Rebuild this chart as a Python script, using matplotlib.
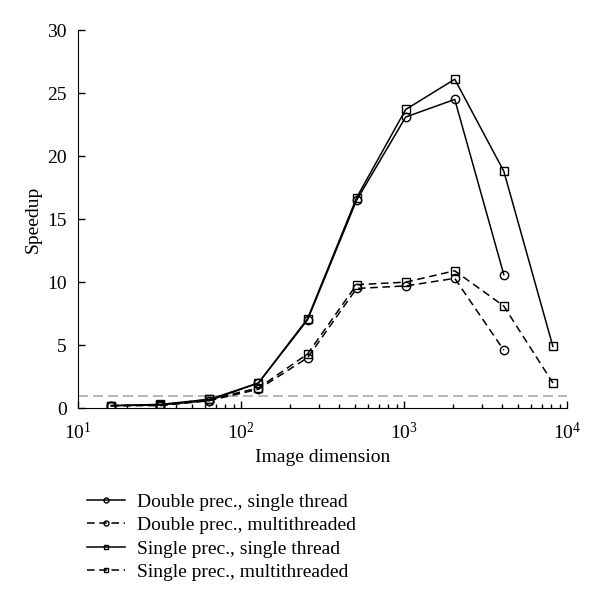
import numpy as np
import matplotlib
matplotlib.use('Agg')
import matplotlib.pyplot as plt

plt.rcParams['font.family'] = ['Liberation Serif', 'DejaVu Serif']
plt.rcParams['mathtext.fontset'] = 'stix'

# ========== data ==========
dims = [16, 32, 64, 128, 256, 512, 1024, 2048, 4096, 8192]
double_single = [0.2, 0.25, 0.6, 2.0, 7.0, 16.5, 23.1, 24.5, 10.6]
double_multi = [0.2, 0.2, 0.6, 1.5, 4.0, 9.5, 9.7, 10.3, 4.6]
single_single = [0.2, 0.3, 0.7, 2.0, 7.1, 16.7, 23.7, 26.1, 18.8, 4.9]
single_multi = [0.2, 0.25, 0.7, 1.6, 4.3, 9.8, 10.0, 10.9, 8.1, 2.0]
labels = ['Double prec., single thread', 'Double prec., multithreaded',
          'Single prec., single thread', 'Single prec., multithreaded']

fig = plt.figure(figsize=(6.0, 6.02), dpi=100)
ax = fig.add_axes([0.13, 0.322, 0.815, 0.628])

mk = dict(markersize=6, markerfacecolor='none', markeredgecolor='black', markeredgewidth=1.0)
ax.plot(dims[:9], double_single, 'k-', marker='o', lw=1.1, label=labels[0], **mk)
ax.plot(dims[:9], double_multi, 'k--', marker='o', lw=1.1, dashes=(5, 3), label=labels[1], **mk)
ax.plot(dims, single_single, 'k-', marker='s', lw=1.1, label=labels[2], **mk)
ax.plot(dims, single_multi, 'k--', marker='s', lw=1.1, dashes=(5, 3), label=labels[3], **mk)
ax.axhline(1, color='#aaaaaa', lw=1.2, ls=(0, (6, 3)), zorder=0)

ax.set_xscale('log')
ax.set_xlim(10, 10000)
ax.set_ylim(0, 30)
ax.set_yticks([0, 5, 10, 15, 20, 25, 30])
ax.spines['top'].set_visible(False)
ax.spines['right'].set_visible(False)
ax.tick_params(direction='in', labelsize=14, length=5, width=1)
ax.tick_params(which='minor', direction='in', length=3, width=1)
ax.tick_params(axis='x', pad=10)
ax.tick_params(axis='y', pad=8)
ax.set_xlabel('Image dimension', fontsize=14)
ax.set_ylabel('Speedup', fontsize=14)

leg = fig.legend(loc='upper left', bbox_to_anchor=(0.115, 0.21), frameon=False,
                 fontsize=14, handlelength=2.0, labelspacing=0.3, handletextpad=0.6,
                 markerscale=0.6)

fig.savefig('out.png', dpi=100)
